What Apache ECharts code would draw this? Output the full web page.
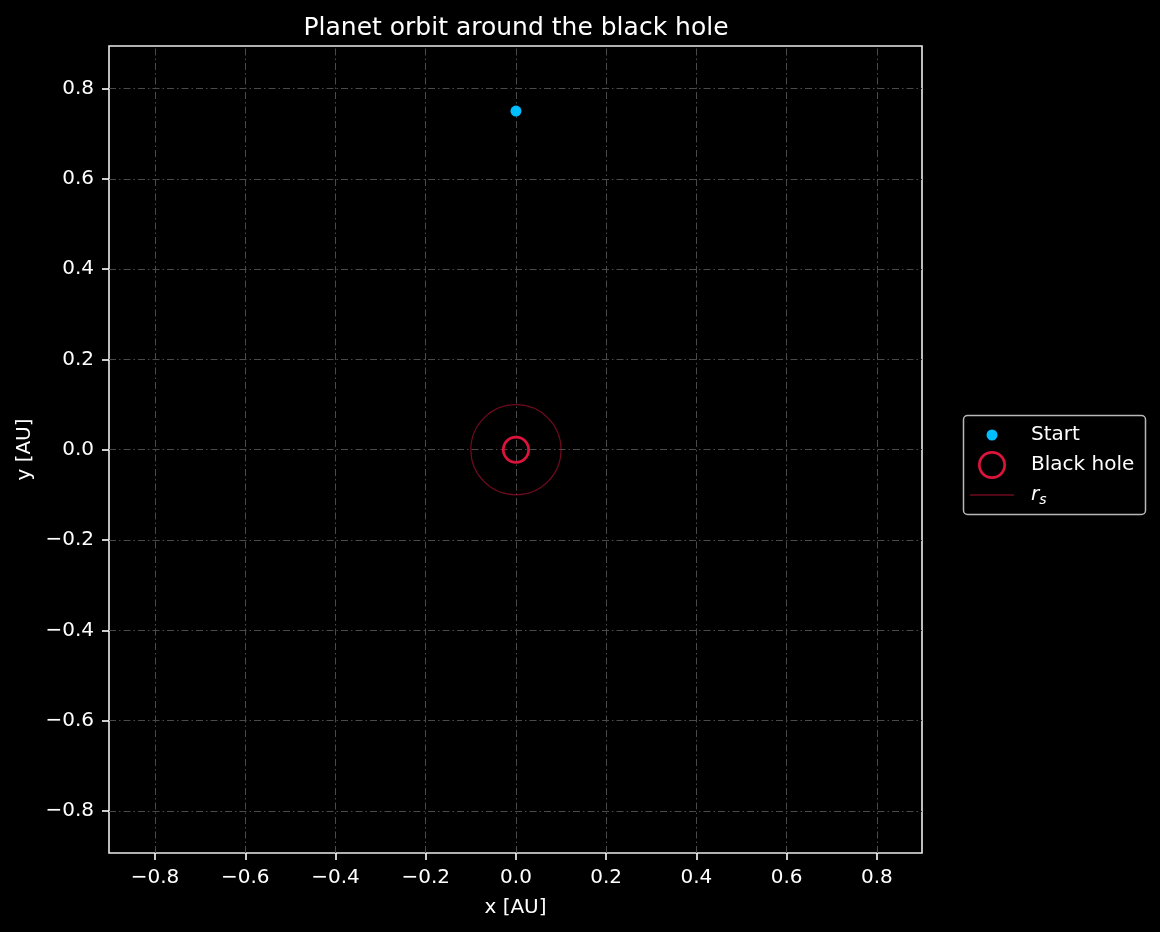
<!DOCTYPE html>
<html>
<head>
<meta charset="utf-8">
<script src="https://cdn.jsdelivr.net/npm/echarts@6/dist/echarts.min.js"></script>
<style>
html,body{margin:0;padding:0;background:#000;}
#chart{width:1160px;height:932px;}
</style>
</head>
<body>
<div id="chart"></div>
<script>
// ---- data ----
const xTicks = [-0.8, -0.6, -0.4, -0.2, 0.0, 0.2, 0.4, 0.6, 0.8];
const yTicks = [-0.8, -0.6, -0.4, -0.2, 0.0, 0.2, 0.4, 0.6, 0.8];
const startPoint = [[0.0, 0.75]];
const blackHole = [[0.0, 0.0]];
const schwarzschild = [[0.0, 0.0, 0.1]]; // center x, center y, radius r_s
const xRange = [-0.902, 0.9];
const yRange = [-0.893, 0.894];
const titleText = 'Planet orbit around the black hole';
const xName = 'x [AU]';
const yName = 'y [AU]';

const FONT = 'DejaVu Sans';
const fmt = v => (Math.abs(v) < 1e-9 ? '0.0' : v.toFixed(1).replace('-', '\u2212'));

const gridLine = {type: [7, 3, 1.5, 3], color: '#4a4a4a', width: 1};
const rsColor = 'rgba(220,20,60,0.5)';

const chart = echarts.init(document.getElementById('chart'), null, {renderer: 'canvas'});
chart.setOption({
  backgroundColor: '#000',
  animation: false,
  title: {
    text: titleText,
    left: 511,
    top: 11,
    textAlign: 'center',
    textStyle: {color: '#fff', fontFamily: FONT, fontSize: 25, fontWeight: 'normal'}
  },
  grid: {
    left: 109, top: 46, width: 813, height: 807,
    show: true, borderColor: '#ececec', borderWidth: 1.6, backgroundColor: '#000'
  },
  xAxis: {
    type: 'value', min: xRange[0], max: xRange[1],
    name: xName, nameLocation: 'middle', nameGap: 45,
    nameTextStyle: {color: '#fff', fontFamily: FONT, fontSize: 20},
    axisLine: {show: false, onZero: false},
    axisTick: {show: true, customValues: xTicks, length: 7, lineStyle: {color: '#fff', width: 1.6}},
    axisLabel: {customValues: xTicks, formatter: fmt, color: '#fff', fontFamily: FONT, fontSize: 20, margin: 15},
    splitLine: {show: false}
  },
  yAxis: {
    type: 'value', min: yRange[0], max: yRange[1],
    name: yName, nameLocation: 'middle', nameGap: 74,
    nameTextStyle: {color: '#fff', fontFamily: FONT, fontSize: 20},
    axisLine: {show: false, onZero: false},
    axisTick: {show: true, customValues: yTicks, length: 7, lineStyle: {color: '#fff', width: 1.6}},
    axisLabel: {customValues: yTicks, formatter: fmt, color: '#fff', fontFamily: FONT, fontSize: 20, margin: 15},
    splitLine: {show: false}
  },
  legend: {
    orient: 'vertical',
    left: 958, top: 421,
    padding: 0,
    itemGap: 2,
    itemWidth: 68,
    itemHeight: 28,
    selectedMode: false,
    textStyle: {
      color: '#fff', fontFamily: FONT, fontSize: 20,
      rich: {
        it: {color: '#fff', fontFamily: FONT, fontSize: 20, fontStyle: 'italic', lineHeight: 24},
        sub: {color: '#fff', fontFamily: FONT, fontSize: 14, fontStyle: 'italic', verticalAlign: 'bottom', lineHeight: 14, padding: [8, 0, 0, 0]}
      }
    },
    formatter: name => (name === 'r_s' ? '{it|r}{sub|s}' : name),
    data: [
      {name: 'Start', icon: 'path://M0,0 M68,28 M34,8.5 A5.5,5.5 0 1,1 34,19.5 A5.5,5.5 0 1,1 34,8.5 Z',
        itemStyle: {color: '#00bfff', borderWidth: 0, opacity: 1}},
      {name: 'Black hole', icon: 'path://M0,0 M68,28 M34,0 A14,14 0 1,1 34,28 A14,14 0 1,1 34,0 Z M34,2.7 A11.3,11.3 0 1,0 34,25.3 A11.3,11.3 0 1,0 34,2.7 Z',
        itemStyle: {color: '#dc143c', borderWidth: 0, opacity: 1}},
      {name: 'r_s', icon: 'path://M0,0 M68,28 M12,13.3 H56 V14.7 H12 Z',
        itemStyle: {color: rsColor, borderWidth: 0, opacity: 1}}
    ]
  },
  graphic: [{
    type: 'rect', z: -1, silent: true,
    shape: {x: 963.5, y: 415.5, width: 182, height: 99, r: 4},
    style: {fill: '#000', stroke: '#b8b8b8', lineWidth: 1.5}
  }],
  series: [
    {
      name: 'r_s',
      type: 'custom',
      z: 3,
      silent: true,
      data: schwarzschild,
      renderItem: (params, api) => {
        const c = api.coord([api.value(0), api.value(1)]);
        const r = api.size([api.value(2), 0])[0];
        return {
          type: 'circle',
          shape: {cx: c[0], cy: c[1], r: r},
          style: {fill: 'none', stroke: rsColor, lineWidth: 1.2}
        };
      },
      markLine: {
        silent: true,
        symbol: ['none', 'none'],
        label: {show: false},
        emphasis: {disabled: true},
        lineStyle: gridLine,
        z: 1,
        data: xTicks.map(v => ({xAxis: v})).concat(yTicks.map(v => ({yAxis: v})))
      }
    },
    {
      name: 'Start',
      type: 'scatter',
      z: 5,
      silent: true,
      symbol: 'circle',
      symbolSize: 11,
      itemStyle: {color: '#00bfff', opacity: 1},
      data: startPoint
    },
    {
      name: 'Black hole',
      type: 'scatter',
      z: 6,
      silent: true,
      symbol: 'circle',
      symbolSize: 25.3,
      itemStyle: {color: 'rgba(0,0,0,0)', borderColor: '#dc143c', borderWidth: 2.7, opacity: 1},
      data: blackHole
    }
  ]
});
</script>
</body>
</html>
